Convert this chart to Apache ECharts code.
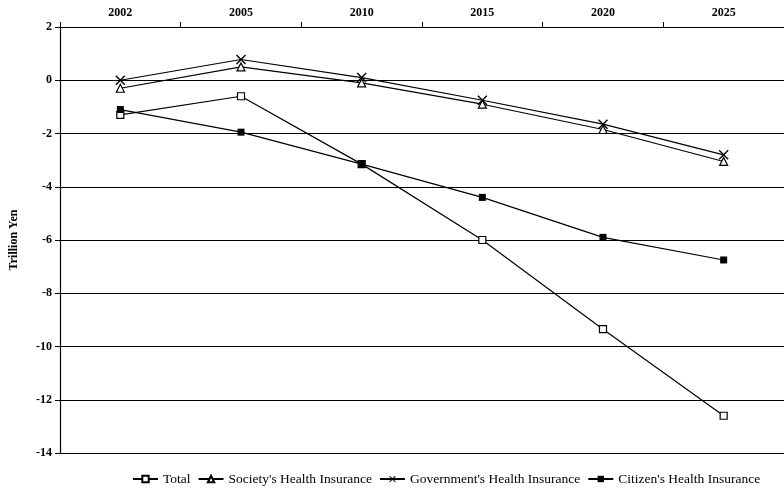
<!DOCTYPE html>
<html>
<head>
<meta charset="utf-8">
<script src="https://cdn.jsdelivr.net/npm/echarts@6/dist/echarts.min.js"></script>
<style>
  html, body { margin: 0; padding: 0; background: #fff; }
  #chart { width: 784px; height: 490px; }
</style>
</head>
<body>
<div id="chart"></div>
<script>
// Projected balances of Japan's health insurance schemes (trillion yen)
const years = ['2002', '2005', '2010', '2015', '2020', '2025'];
const total = [-1.3, -0.6, -3.15, -6.0, -9.35, -12.6];
const societys = [-0.3, 0.5, -0.1, -0.9, -1.85, -3.05];
const governments = [0.0, 0.78, 0.1, -0.75, -1.65, -2.8];
const citizens = [-1.1, -1.95, -3.15, -4.4, -5.9, -6.75];
const yTicks = { min: -14, max: 2, step: 2 };

const FONT = 'Liberation Serif';
const BLACK = '#000';
const crossPath = 'path://M0,1L1,0L5,4L9,0L10,1L6,5L10,9L9,10L5,6L1,10L0,9L4,5Z';

function lineSeries(name, data, symbol, size, filled) {
  return {
    name: name,
    type: 'line',
    data: data,
    symbol: symbol,
    symbolSize: size,
    showAllSymbol: true,
    lineStyle: { color: BLACK, width: 1.2 },
    itemStyle: filled
      ? { color: BLACK, borderColor: BLACK, borderWidth: 0 }
      : { color: '#fff', borderColor: BLACK, borderWidth: 1.2 },
    emphasis: { disabled: true },
    animation: false,
    z: 3
  };
}

const chart = echarts.init(document.getElementById('chart'), null, { renderer: 'canvas' });
chart.setOption({
  backgroundColor: '#fff',
  animation: false,
  textStyle: { fontFamily: FONT, color: BLACK },
  grid: { left: 56, top: 27, width: 734, height: 426, containLabel: false },
  legend: {
    left: 127,
    top: 467,
    width: 657,
    itemWidth: 25,
    itemHeight: 8,
    itemGap: 7,
    textStyle: { fontFamily: FONT, fontSize: 13.5, color: BLACK },
    data: ['Total', "Society's Health Insurance", "Government's Health Insurance", "Citizen's Health Insurance"]
  },
  xAxis: {
    type: 'category',
    position: 'top',
    data: years,
    boundaryGap: true,
    axisLine: { onZero: false, lineStyle: { color: BLACK, width: 1.2 } },
    axisTick: { show: true, alignWithLabel: false, length: 5, lineStyle: { color: BLACK } },
    axisLabel: { color: BLACK, fontFamily: FONT, fontWeight: 'bold', fontSize: 12, margin: 8 },
    splitLine: { show: false }
  },
  yAxis: {
    type: 'value',
    min: yTicks.min,
    max: yTicks.max,
    interval: yTicks.step,
    name: 'Trillion Yen',
    nameLocation: 'middle',
    nameRotate: 90,
    nameGap: 40,
    nameTextStyle: { fontFamily: FONT, fontWeight: 'bold', fontSize: 12, color: BLACK },
    axisLine: { show: true, lineStyle: { color: BLACK, width: 1.2 } },
    axisTick: { show: true, length: 5, lineStyle: { color: BLACK } },
    axisLabel: { color: BLACK, fontFamily: FONT, fontWeight: 'bold', fontSize: 12, margin: 8 },
    splitLine: { show: true, lineStyle: { color: BLACK, width: 1.2 } }
  },
  series: [
    lineSeries('Total', total, 'rect', 7, false),
    lineSeries("Society's Health Insurance", societys, 'triangle', 8, false),
    lineSeries("Government's Health Insurance", governments, crossPath, 10, true),
    lineSeries("Citizen's Health Insurance", citizens, 'rect', 7, true)
  ]
});
</script>
</body>
</html>
